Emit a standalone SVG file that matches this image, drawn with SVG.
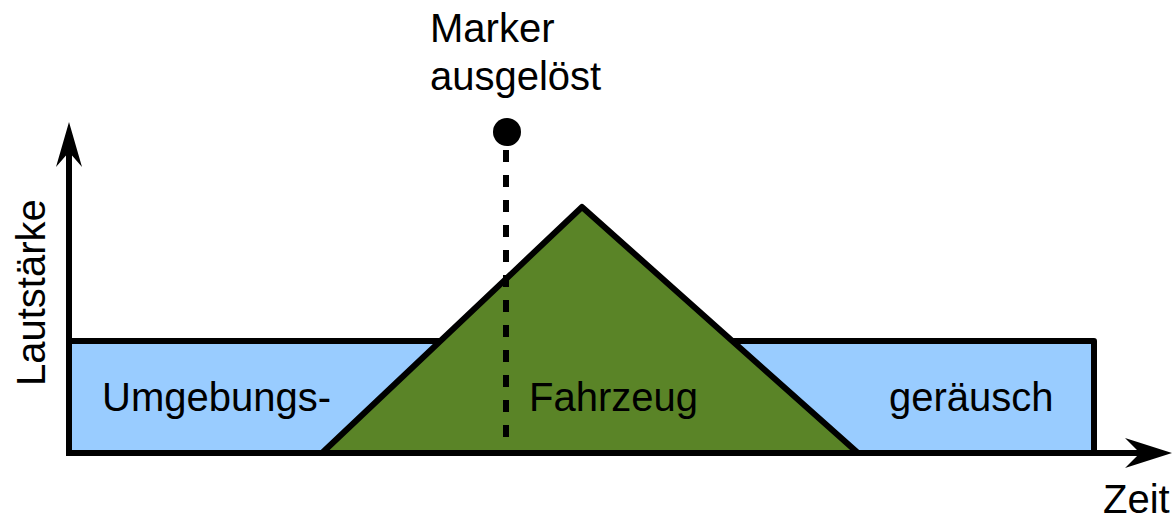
<svg xmlns="http://www.w3.org/2000/svg" width="1173" height="520" viewBox="0 0 1173 520">
  <style>
    .lbl { font-family: "Liberation Sans", Arial, sans-serif; font-size: 40px; fill: #000; }
    .edge { stroke: #000; stroke-width: 6; stroke-linejoin: round; }
  </style>
  <rect width="1173" height="520" fill="#fff"/>

  <g id="ambient">
    <rect x="69" y="341" width="1025" height="112" fill="#99ccff" class="edge"/>
    <text class="lbl" x="102" y="411">Umgebungs-</text>
    <text class="lbl" x="889" y="411">geräusch</text>
  </g>

  <g id="vehicle">
    <polygon points="322,453 582,207 858,453" fill="#5a8427" class="edge" stroke-linejoin="miter"/>
    <text class="lbl" x="529" y="411">Fahrzeug</text>
  </g>

  <g id="marker">
    <line x1="506" y1="150" x2="506" y2="438" stroke="#000" stroke-width="6" stroke-dasharray="12 13"/>
    <circle cx="507" cy="132" r="14" fill="#000"/>
    <text class="lbl" x="430" y="42">Marker</text>
    <text class="lbl" x="430" y="90">ausgelöst</text>
  </g>

  <g id="axes">
    <line x1="69" y1="456" x2="69" y2="150" stroke="#000" stroke-width="6"/>
    <polygon points="69,122 82,167 69,152 56,167" fill="#000"/>
    <line x1="66" y1="453" x2="1145" y2="453" stroke="#000" stroke-width="6"/>
    <polygon points="1172,453 1125,468 1140,453 1125,438" fill="#000"/>
    <text class="lbl" x="1103" y="513">Zeit</text>
    <text class="lbl" transform="translate(45,386) rotate(-90)">Lautstärke</text>
  </g>
</svg>
